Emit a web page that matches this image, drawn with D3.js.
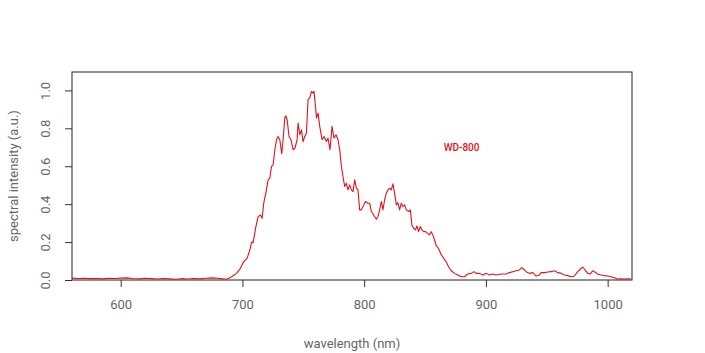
<!DOCTYPE html>
<html>
<head>
<meta charset="utf-8">
<script src="https://cdn.jsdelivr.net/npm/d3@7"></script>
<style>
  body { margin: 0; background: #fff; }
  svg { display: block; }
  .tick text { font-family: Roboto, "DejaVu Sans", sans-serif; }
</style>
</head>
<body>
<svg id="chart" width="705" height="353"></svg>
<script>
// spectrum: wavelength (nm) and relative intensity
const wavelength = [
  560, 565, 570, 575, 580, 585, 590, 595, 600, 605, 610, 615, 620, 625, 630, 635, 640, 645,
  650, 655, 660, 665, 670, 675, 680, 681.5, 687, 691.1, 695.2, 697.9, 701.1, 703.9, 706.1,
  707.5, 708.8, 711.0, 712.9, 714.8, 716.2, 717.5, 719.2, 721.1, 722.5, 723.9, 725.2, 726.6,
  728.0, 729.3, 730.7, 732.3, 733.4, 734.8, 735.6, 736.7, 738.3, 739.9, 741.6, 743.2, 744.9,
  745.7, 747.1, 748.5, 749.8, 751.2, 752.6, 753.9, 755.3, 756.7, 758.0, 758.8, 760.0, 760.8,
  762.1, 763.5, 765.4, 767.0, 769.0, 770.3, 771.9, 773.6, 775.2, 776.9, 778.5, 779.9, 781.3,
  782.6, 784.0, 785.4, 786.7, 788.1, 789.5, 790.8, 792.2, 793.6, 794.9, 796.3, 797.7, 799.0,
  801.0, 803.1, 804.5, 805.9, 807.8, 810.0, 811.3, 812.7, 814.1, 815.4, 816.8, 818.2, 819.5,
  820.9, 822.3, 823.6, 825.0, 826.4, 827.7, 829.1, 830.5, 831.8, 833.2, 834.6, 836.7, 837.9,
  839.2, 840.6, 842.2, 843.3, 844.7, 846.1, 847.4, 848.8, 850.4, 852.3, 853.7, 855.1, 856.4,
  857.8, 859.2, 860.5, 861.9, 863.3, 864.6, 866.0, 867.4, 869.3, 871.5, 874.2, 876.9, 879.7,
  882.4, 885.1, 887.9, 890.1, 892.0, 894.7, 897.4, 900.2, 902.9, 905.6, 908.4, 911.1, 913.9,
  916.6, 919.3, 922.1, 924.8, 927.5, 929.4, 931.1, 933.0, 935.7, 938.5, 941.2, 944.0, 945.3,
  948.1, 950.8, 953.5, 956.3, 959.0, 961.8, 964.5, 967.2, 970.0, 972.7, 975.4, 978.2, 979.8,
  981.4, 983.6, 985.8, 987.7, 989.1, 991.8, 994.6, 997.3, 1000.0, 1002.8, 1005.5, 1008.2,
  1010.9, 1013.7, 1016.4, 1019.2
];
const intensity = [
  0.010, 0.008, 0.009, 0.007, 0.008, 0.006, 0.009, 0.008, 0.010, 0.011, 0.008, 0.006, 0.009,
  0.007, 0.005, 0.008, 0.006, 0.004, 0.007, 0.005, 0.008, 0.006, 0.009, 0.011, 0.009, 0.007,
  0.004, 0.017, 0.035, 0.057, 0.097, 0.115, 0.158, 0.200, 0.197, 0.280, 0.334, 0.343, 0.326,
  0.405, 0.458, 0.528, 0.537, 0.599, 0.607, 0.687, 0.740, 0.757, 0.740, 0.666, 0.740, 0.854,
  0.866, 0.845, 0.757, 0.740, 0.687, 0.696, 0.740, 0.828, 0.766, 0.792, 0.730, 0.757, 0.775,
  0.951, 0.960, 0.995, 0.986, 0.995, 0.915, 0.854, 0.880, 0.810, 0.740, 0.757, 0.730, 0.749,
  0.687, 0.810, 0.749, 0.766, 0.740, 0.687, 0.599, 0.546, 0.493, 0.510, 0.475, 0.502, 0.475,
  0.466, 0.528, 0.484, 0.475, 0.370, 0.370, 0.387, 0.414, 0.405, 0.405, 0.361, 0.343, 0.320,
  0.334, 0.370, 0.414, 0.370, 0.423, 0.458, 0.475, 0.484, 0.475, 0.507, 0.458, 0.396, 0.408,
  0.370, 0.405, 0.387, 0.396, 0.370, 0.361, 0.370, 0.290, 0.273, 0.264, 0.285, 0.255, 0.282,
  0.264, 0.255, 0.255, 0.246, 0.238, 0.255, 0.238, 0.211, 0.180, 0.172, 0.155, 0.132, 0.123,
  0.106, 0.097, 0.070, 0.049, 0.035, 0.026, 0.017, 0.017, 0.032, 0.035, 0.044, 0.035, 0.035,
  0.026, 0.035, 0.026, 0.032, 0.026, 0.030, 0.032, 0.032, 0.039, 0.044, 0.049, 0.053, 0.065,
  0.057, 0.044, 0.035, 0.039, 0.021, 0.026, 0.039, 0.039, 0.042, 0.044, 0.049, 0.039, 0.035,
  0.026, 0.023, 0.017, 0.021, 0.044, 0.062, 0.067, 0.053, 0.035, 0.032, 0.049, 0.044, 0.032,
  0.026, 0.023, 0.021, 0.017, 0.012, 0.005, 0.007, 0.005, 0.007, 0.005
];
const xTicks = [600, 700, 800, 900, 1000];
const yTicks = [0, 0.2, 0.4, 0.6, 0.8, 1.0];
const seriesLabel = "WD-800";

const svg = d3.select("#chart");
const margin = { top: 72, right: 73, bottom: 73, left: 72 };
const width = 705 - margin.left - margin.right;
const height = 353 - margin.top - margin.bottom;
const font = "Roboto, 'DejaVu Sans', sans-serif";
const red = "#e0121b";

const g = svg.append("g")
  .attr("transform", `translate(${margin.left},${margin.top})`);

const x = d3.scaleLinear().domain([560, 1020]).range([0, width]);
const y = d3.scaleLinear().domain([0, 1.097]).range([height, 0]);

// x axis
const xAxis = g.append("g")
  .attr("transform", `translate(0,${height})`)
  .call(d3.axisBottom(x).tickValues(xTicks).tickSize(7).tickPadding(13).tickFormat(d3.format("d")));
xAxis.select(".domain").remove();
xAxis.selectAll("line").attr("stroke", "#333");
xAxis.selectAll("text").attr("fill", "#666").style("font-size", "13px");

// y axis, labels rotated like base R
const yAxis = g.append("g")
  .call(d3.axisLeft(y).tickValues(yTicks).tickSize(7).tickFormat(d3.format(".1f")));
yAxis.select(".domain").remove();
yAxis.selectAll("line").attr("stroke", "#333");
yAxis.selectAll("text")
  .attr("fill", "#666")
  .style("font-size", "13px")
  .attr("x", null).attr("dy", null)
  .attr("text-anchor", "middle")
  .attr("transform", "translate(-27,0) rotate(-90)")
  .attr("dy", "0.35em");

// box
g.append("rect")
  .attr("width", width).attr("height", height)
  .attr("fill", "none").attr("stroke", "#222").attr("stroke-width", 1);

// spectrum line
const line = d3.line()
  .x((d, i) => x(wavelength[i]))
  .y(d => y(d));

g.append("path")
  .datum(intensity)
  .attr("fill", "none")
  .attr("stroke", red)
  .attr("stroke-width", 1.1)
  .attr("stroke-linejoin", "round")
  .attr("d", line);

// series label
g.append("text")
  .attr("x", x(880)).attr("y", y(0.697))
  .attr("text-anchor", "middle")
  .attr("dy", "0.35em")
  .attr("fill", red)
  .style("font-family", font)
  .style("font-size", "10px")
  .style("font-weight", 500)
  .text(seriesLabel);

// axis titles
svg.append("text")
  .attr("x", margin.left + width / 2).attr("y", 343)
  .attr("text-anchor", "middle")
  .attr("dy", "0.35em")
  .attr("fill", "#666")
  .style("font-family", font)
  .style("font-size", "13px")
  .text("wavelength (nm)");

svg.append("text")
  .attr("transform", `translate(13,${margin.top + height / 2}) rotate(-90)`)
  .attr("text-anchor", "middle")
  .attr("dy", "0.35em")
  .attr("fill", "#666")
  .style("font-family", font)
  .style("font-size", "13px")
  .text("spectral intensity (a.u.)");
</script>
</body>
</html>
